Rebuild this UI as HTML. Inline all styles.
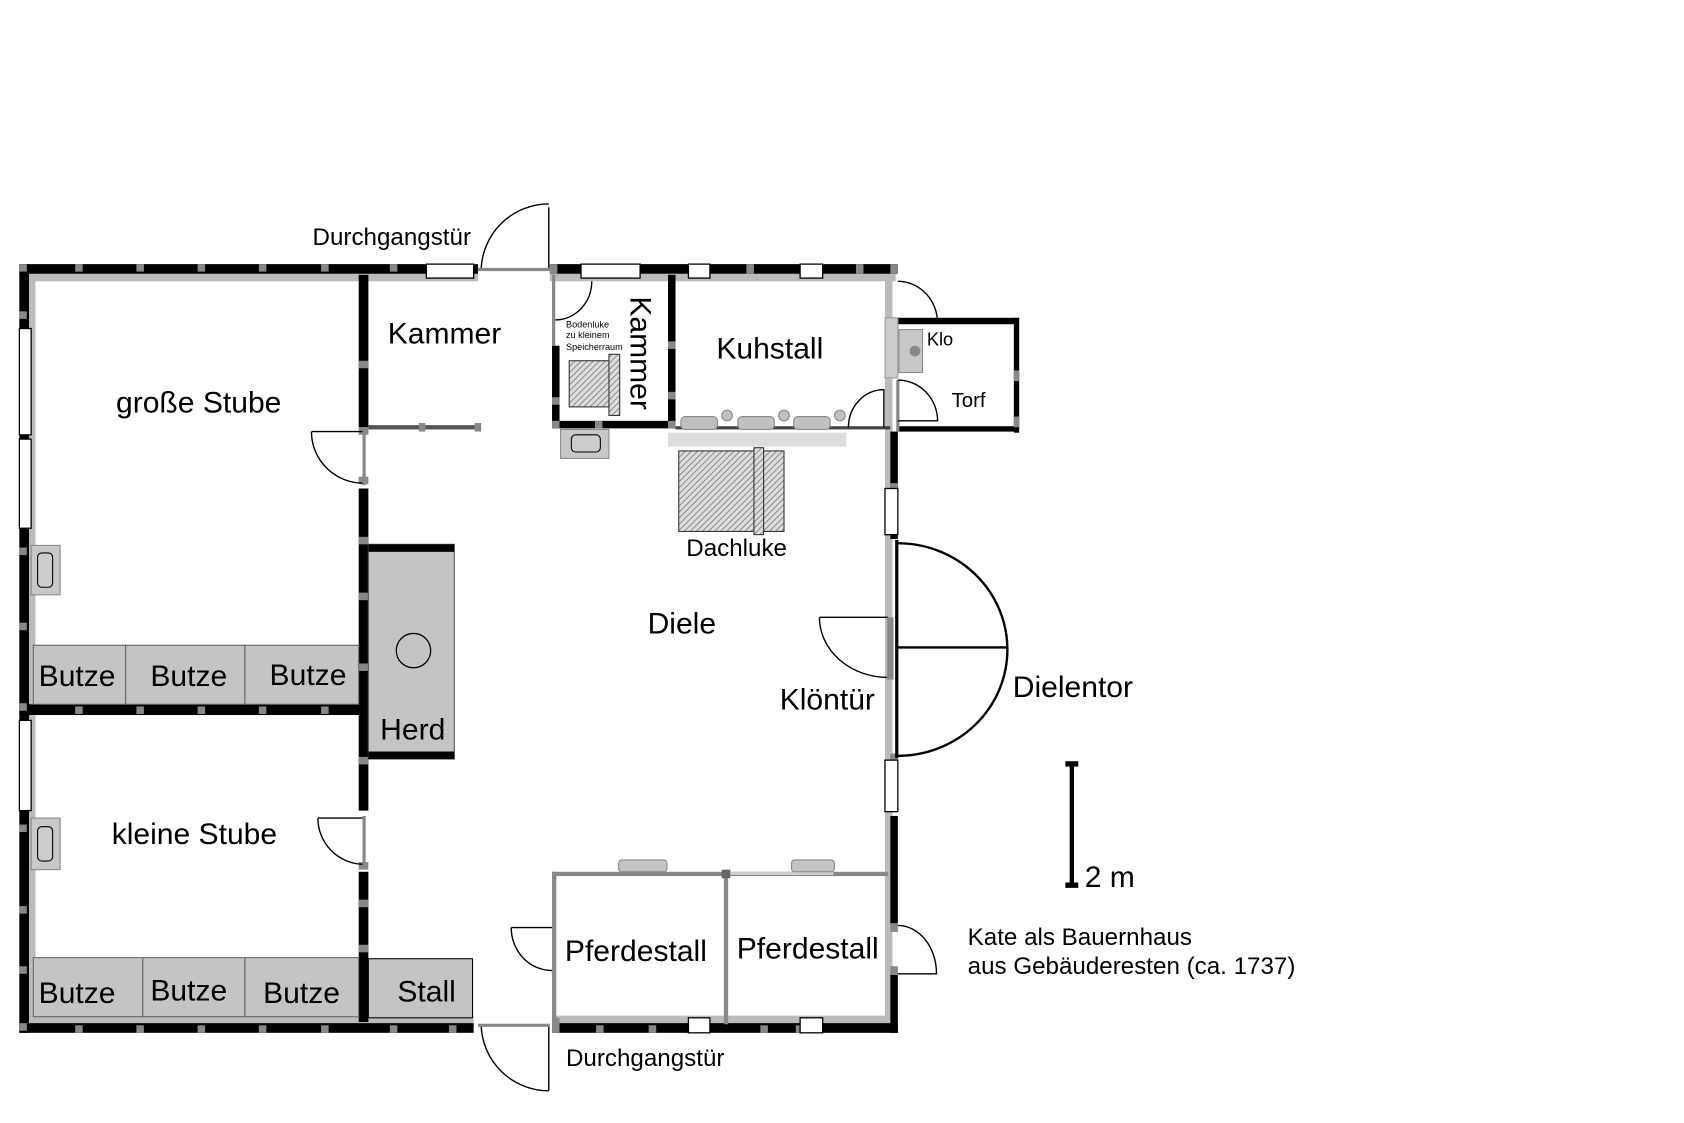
<!DOCTYPE html>
<html><head><meta charset="utf-8"><style>
html,body{margin:0;padding:0;background:#fff;}
svg{display:block;}
text{font-family:"Liberation Sans",Arial,sans-serif;fill:#000;}
</style></head><body>
<svg width="1684" height="1123" viewBox="0 0 1568 1046" preserveAspectRatio="none" xmlns="http://www.w3.org/2000/svg">
<defs>
<pattern id="h" width="4" height="4" patternUnits="userSpaceOnUse" patternTransform="rotate(45)">
<rect width="4" height="4" fill="#ddd"/><line x1="0" y1="0" x2="0" y2="4" stroke="#777" stroke-width="1.5"/></pattern>
</defs>
<rect width="1568" height="1046" fill="#fff"/>

<g fill="#bbb">
<rect x="27" y="255" width="418" height="7"/>
<rect x="512" y="255" width="322" height="7"/>
<rect x="27" y="255" width="6" height="700"/>
<rect x="27" y="946" width="414" height="8"/>
<rect x="514" y="946" width="314" height="8"/>
<rect x="824" y="255" width="7" height="700"/>
</g>
<g fill="#000">
<rect x="18" y="246" width="427" height="9"/>
<rect x="512" y="246" width="324" height="9"/>
<rect x="18" y="246" width="9" height="716"/>
<rect x="18" y="953" width="423" height="9"/>
<rect x="514" y="953" width="322" height="9"/>
<rect x="829" y="402" width="7" height="100"/>
<rect x="829" y="760" width="7" height="100"/>
<rect x="829" y="908" width="7" height="54"/>
<rect x="18" y="656" width="325" height="10"/>
<rect x="334" y="256" width="9" height="142"/>
<rect x="334" y="455" width="9" height="300"/>
<rect x="334" y="812" width="9" height="140"/>
<rect x="514" y="322" width="7" height="76"/>
<rect x="514" y="392" width="115" height="7"/>
<rect x="622" y="256" width="7" height="142"/>
<rect x="836" y="296" width="112" height="6"/>
<rect x="944" y="296" width="5" height="107"/>
<rect x="836" y="397" width="112" height="5"/>
</g>
<g fill="#888">
<rect x="18" y="246" width="7" height="7"/><rect x="70" y="246" width="7" height="7"/><rect x="127" y="246" width="7" height="7"/><rect x="184" y="246" width="7" height="7"/><rect x="241" y="246" width="7" height="7"/><rect x="299" y="246" width="7" height="7"/><rect x="363" y="246" width="7" height="7"/><rect x="415" y="246" width="7" height="7"/>
<rect x="18" y="953" width="7" height="7"/><rect x="70" y="955" width="7" height="7"/><rect x="127" y="955" width="7" height="7"/><rect x="184" y="955" width="7" height="7"/><rect x="241" y="955" width="7" height="7"/><rect x="299" y="955" width="7" height="7"/><rect x="363" y="955" width="7" height="7"/><rect x="418" y="955" width="7" height="7"/>
<rect x="18" y="655" width="7" height="7"/><rect x="70" y="658" width="7" height="7"/><rect x="127" y="658" width="7" height="7"/><rect x="184" y="658" width="7" height="7"/><rect x="241" y="658" width="7" height="7"/><rect x="299" y="658" width="7" height="7"/>
<rect x="18" y="290" width="7" height="7"/><rect x="18" y="510" width="7" height="7"/><rect x="18" y="580" width="7" height="7"/><rect x="18" y="768" width="7" height="7"/><rect x="18" y="844" width="7" height="7"/><rect x="18" y="900" width="7" height="7"/>
<rect x="334" y="444" width="9" height="7"/><rect x="334" y="500" width="9" height="7"/><rect x="334" y="552" width="9" height="7"/><rect x="334" y="618" width="9" height="7"/><rect x="334" y="705" width="9" height="7"/><rect x="334" y="803" width="9" height="7"/><rect x="334" y="838" width="9" height="7"/><rect x="334" y="880" width="9" height="7"/>
<rect x="334" y="336" width="9" height="7"/><rect x="334" y="398" width="9" height="7"/>
<rect x="512" y="246" width="7" height="9"/><rect x="695" y="246" width="7" height="9"/><rect x="797" y="246" width="7" height="9"/><rect x="829" y="246" width="7" height="9"/>
<rect x="555" y="955" width="7" height="7"/><rect x="604" y="955" width="7" height="7"/><rect x="708" y="955" width="7" height="7"/><rect x="741" y="955" width="7" height="7"/><rect x="514" y="948" width="7" height="14"/>
<rect x="829" y="450" width="7" height="6"/><rect x="829" y="702" width="7" height="8"/><rect x="829" y="860" width="7" height="8"/><rect x="829" y="900" width="7" height="8"/>
<rect x="514" y="392" width="7" height="7"/><rect x="554" y="392" width="7" height="7"/><rect x="622" y="392" width="7" height="7"/><rect x="622" y="318" width="7" height="7"/><rect x="622" y="365" width="7" height="7"/><rect x="514" y="370" width="7" height="7"/>
<rect x="944" y="388" width="5" height="10"/><rect x="944" y="345" width="5" height="10"/>
</g>
<g fill="#fff" stroke="#000" stroke-width="1.2">
<rect x="397" y="246" width="44" height="13"/>
<rect x="541" y="246" width="55" height="13"/>
<rect x="641" y="246" width="20" height="13"/>
<rect x="745" y="246" width="21" height="13"/>
<rect x="18" y="306" width="11" height="99"/>
<rect x="18" y="409" width="11" height="83"/>
<rect x="18" y="671" width="11" height="84"/>
<rect x="824" y="455" width="12" height="43"/>
<rect x="824" y="708" width="12" height="48"/>
<rect x="641" y="948" width="20" height="14"/>
<rect x="745" y="948" width="21" height="14"/>
</g>
<rect x="343" y="396" width="104" height="4" fill="#555"/>
<rect x="390" y="394" width="6" height="8" fill="#888"/><rect x="442" y="394" width="6" height="8" fill="#888"/>
<rect x="514" y="256" width="3" height="66" fill="#888"/>
<rect x="629" y="397" width="200" height="3" fill="#444"/>
<rect x="622" y="403" width="166" height="13" fill="#ddd"/>
<g fill="#c0c0c0" stroke="#888">
<rect x="634" y="388" width="34" height="12" rx="4"/><rect x="687" y="388" width="34" height="12" rx="4"/><rect x="739" y="388" width="34" height="12" rx="4"/>
<circle cx="677" cy="387" r="5"/><circle cx="730" cy="387" r="5"/><circle cx="782" cy="387" r="5"/>
</g>
<rect x="824" y="296" width="12" height="56" fill="#ccc" stroke="#999"/>
<rect x="837" y="307" width="22" height="40" fill="#c8c8c8" stroke="#888"/>
<circle cx="852" cy="327" r="5" fill="#888"/>
<line x1="836" y1="354" x2="836" y2="402" stroke="#888" stroke-width="3"/>
<rect x="29" y="508" width="27" height="46" fill="#c8c8c8" stroke="#888"/><rect x="35" y="515" width="14" height="32" rx="4" fill="#ccc" stroke="#000"/>
<rect x="29" y="762" width="27" height="48" fill="#c8c8c8" stroke="#888"/><rect x="35" y="770" width="14" height="32" rx="4" fill="#ccc" stroke="#000"/>
<rect x="522" y="400" width="45" height="27" fill="#c8c8c8" stroke="#888"/><rect x="532" y="405" width="27" height="16" rx="4" fill="#ccc" stroke="#000"/>
<rect x="530" y="336" width="44" height="43" fill="url(#h)" stroke="#333"/>
<rect x="567" y="330" width="10" height="57" fill="url(#h)" stroke="#333"/>
<rect x="632" y="420" width="98" height="75" fill="url(#h)" stroke="#333"/>
<rect x="702" y="417" width="9" height="81" fill="url(#h)" stroke="#333"/>
<g fill="#c4c4c4" stroke="#666">
<rect x="31" y="601" width="86" height="55"/><rect x="117" y="601" width="111" height="55"/><rect x="228" y="601" width="106" height="55"/>
<rect x="31" y="892" width="102" height="55"/><rect x="133" y="892" width="95" height="55"/><rect x="228" y="892" width="106" height="55"/>
</g>
<rect x="343" y="893" width="97" height="55" fill="#c4c4c4" stroke="#000"/>
<rect x="343" y="507" width="80" height="200" fill="#c4c4c4" stroke="#555"/>
<rect x="343" y="507" width="80" height="7" fill="#000"/><rect x="343" y="700" width="80" height="7" fill="#000"/>
<circle cx="385" cy="606" r="16" fill="none" stroke="#000" stroke-width="1.2"/>
<g fill="#888">
<rect x="514" y="812" width="313" height="4"/>
<rect x="514" y="812" width="4" height="142"/>
<rect x="674" y="812" width="4" height="142"/>
</g>
<rect x="676" y="812" width="100" height="3" fill="#ccc"/>
<rect x="576" y="801" width="45" height="11" rx="3" fill="#c4c4c4" stroke="#888"/>
<rect x="737" y="801" width="40" height="11" rx="3" fill="#c4c4c4" stroke="#888"/>
<rect x="672" y="810" width="8" height="8" fill="#666"/>
<g fill="none" stroke="#000" stroke-width="1.3">
<path d="M511 193 V252 M448 252 A63 63 0 0 1 511 190"/>
<line x1="445" y1="251" x2="512" y2="251" stroke="#888" stroke-width="3"/>
<path d="M511 955 V1016 M448 955 A63 63 0 0 0 511 1016"/>
<line x1="445" y1="955" x2="512" y2="955" stroke="#888" stroke-width="3"/>
<path d="M290 402 H338 M290 402 A48 48 0 0 0 338 450"/>
<line x1="339" y1="400" x2="339" y2="452" stroke="#888" stroke-width="3"/>
<path d="M296 762 H338 M296 762 A43 43 0 0 0 338 805"/>
<line x1="339" y1="760" x2="339" y2="808" stroke="#888" stroke-width="3"/>
<path d="M476 864 H514 M476 864 A38 40 0 0 0 514 904"/>
<path d="M836 862 A36 45 0 0 1 872 907 H836"/>
<path d="M517 298 A34 36 0 0 0 551 262"/>
<path d="M836 262 A37 39 0 0 1 873 301"/>
<path d="M836 354 A37 38 0 0 1 873 392 H836"/>
<path d="M790 398 A33 35 0 0 1 823 363 V398"/>
<path d="M763 575 H827 M763 575 A64 56 0 0 0 827 631"/>
<rect x="826" y="575" width="6" height="58" fill="#888" stroke="none"/>
<path d="M836 506 A102 99 0 0 1 836 704 M836 603 H938" stroke-width="2.2"/>
<line x1="835" y1="503" x2="835" y2="706" stroke-width="3"/>
</g>
<rect x="996" y="711" width="4" height="114" fill="#000"/>
<rect x="992" y="709" width="12" height="5" fill="#000"/><rect x="992" y="822" width="12" height="5" fill="#000"/>
<g font-size="28">
<text x="361" y="320">Kammer</text>
<text x="108" y="384">große Stube</text>
<text x="667" y="334">Kuhstall</text>
<text x="603" y="590">Diele</text>
<text x="726" y="661">Klöntür</text>
<text x="943" y="649">Dielentor</text>
<text x="104" y="786">kleine Stube</text>
<text x="36" y="639">Butze</text><text x="140" y="639">Butze</text><text x="251" y="638">Butze</text>
<text x="354" y="689">Herd</text>
<text x="36" y="934">Butze</text><text x="140" y="932">Butze</text><text x="245" y="934">Butze</text>
<text x="370" y="933">Stall</text>
<text x="526" y="895">Pferdestall</text>
<text x="686" y="893">Pferdestall</text>
<text x="1010" y="826">2 m</text>
<text transform="translate(587,276) rotate(90)">Kammer</text>
</g>
<g font-size="22.5">
<text x="291" y="228">Durchgangstür</text>
<text x="527" y="993">Durchgangstür</text>
<text x="639" y="518">Dachluke</text>
<text x="901" y="880">Kate als Bauernhaus</text>
<text x="901" y="907">aus Gebäuderesten (ca. 1737)</text>
</g>
<text x="886" y="379" font-size="19">Torf</text>
<text x="863" y="322" font-size="17">Klo</text>
<g font-size="8.5"><text x="527" y="305">Bodenluke</text><text x="527" y="315">zu kleinem</text><text x="527" y="326">Speicherraum</text></g>
</svg>
</body></html>
